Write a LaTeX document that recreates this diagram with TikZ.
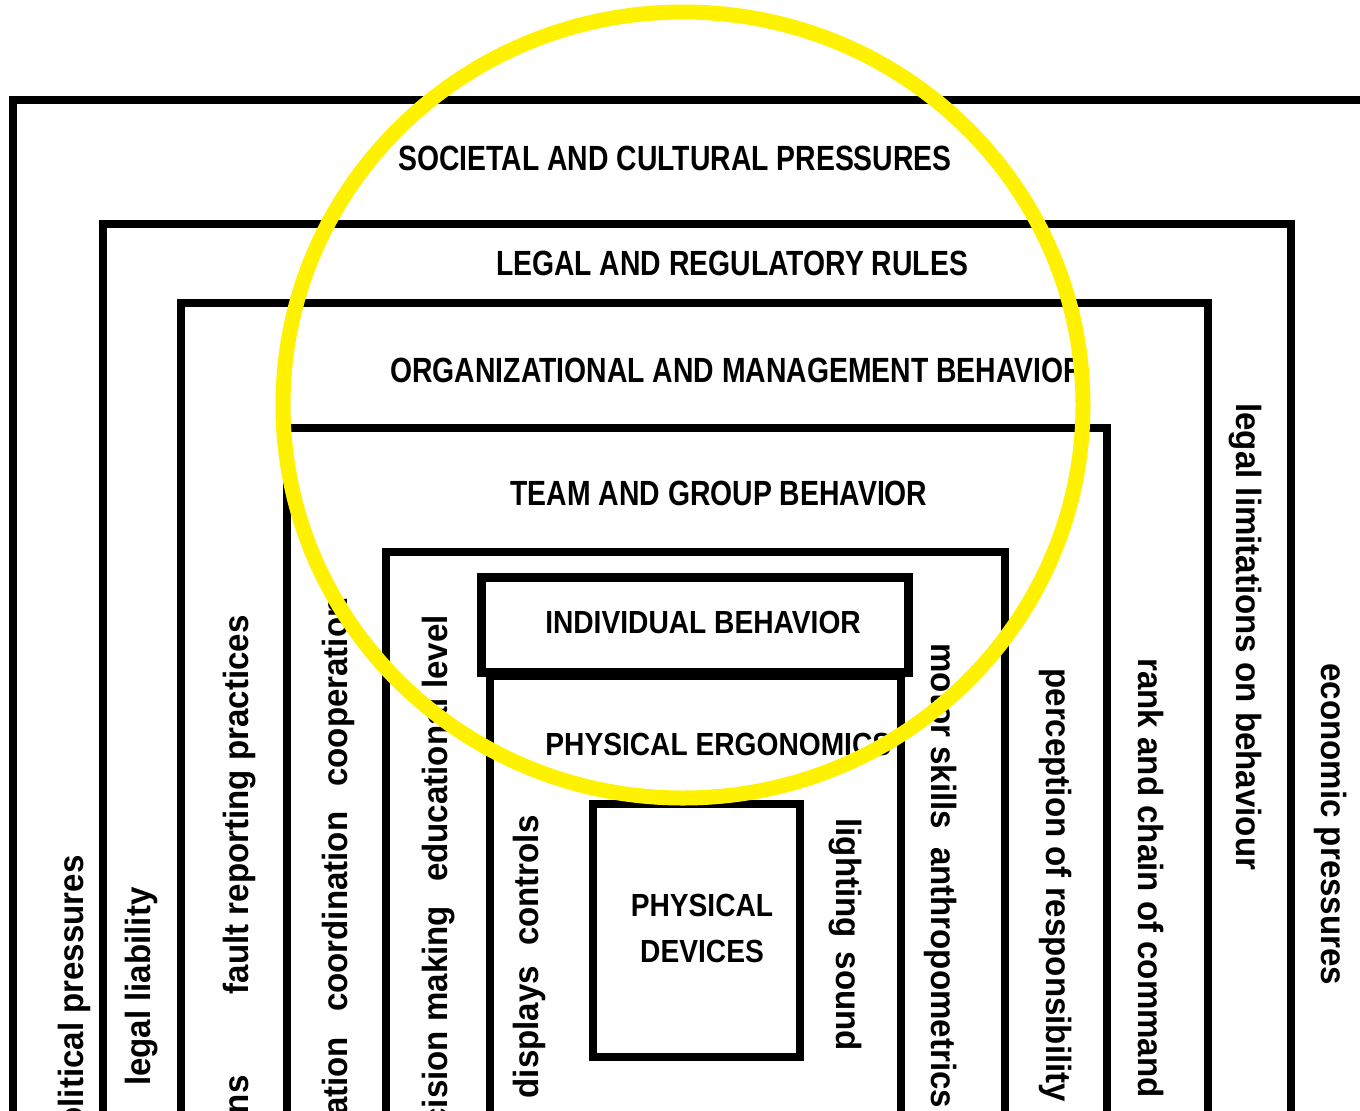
\documentclass[tikz,border=0pt]{standalone}
\usepackage{fontspec}
\setmainfont{Liberation Sans}
\newfontfamily\hdrA[FakeStretch=0.81]{Liberation Sans Bold}
\newfontfamily\hdrB[FakeStretch=0.88]{Liberation Sans Bold}
\newfontfamily\vtxt[FakeStretch=0.945]{Liberation Sans Bold}
\begin{document}
\begin{tikzpicture}[x=0.5pt,y=-0.5pt,
  layer/.style={draw=black,line width=3.6pt},
  bighead/.style={inner sep=0pt,font=\hdrA\fontsize{17.5}{20}\selectfont},
  smallhead/.style={inner sep=0pt,font=\hdrB\fontsize{16}{19}\selectfont},
  upword/.style={inner sep=0pt,rotate=90,anchor=mid east,font=\vtxt\fontsize{17.5}{20}\selectfont},
  downword/.style={inner sep=0pt,rotate=-90,anchor=mid west,font=\vtxt\fontsize{17.5}{20}\selectfont},
  ring/.style={draw=yellow,line width=7.5pt}]
\useasboundingbox (0,0) rectangle (1360,1110);
\fill[white] (0,0) rectangle (1360,1110);
\clip (0,0) rectangle (1360,1110);
% nested layers
\draw[layer,line width=4pt] (13,100) rectangle (1420,1200);
\draw[layer] (103,224) rectangle (1291,1200);
\draw[layer] (181,303) rectangle (1208,1200);
\draw[layer] (287,428) rectangle (1107,1200);
\draw[layer] (386,552) rectangle (1005,1200);
\draw[layer,line width=4.5pt] (481,577) rectangle (908,672);
\draw[layer] (490,676) rectangle (901,1200);
\draw[layer] (593,804) rectangle (800,1057);
% headings
\node[bighead] (soc) at (675,158) {SOCIETAL AND CULTURAL PRESSURES};
\node[bighead] (leg) at (732,263) {LEGAL AND REGULATORY RULES};
\node[bighead,anchor=west] (org) at (390,370) {ORGANIZATIONAL AND MANAGEMENT BEHAVIOR};
\node[bighead] (team) at (719,493) {TEAM AND GROUP BEHAVIOR};
\node[smallhead] (ind) at (703,622) {INDIVIDUAL BEHAVIOR};
\node[smallhead,anchor=west] (erg) at (545,744) {PHYSICAL ERGONOMICS};
\node[smallhead,align=center] (dev) at (702,928) {PHYSICAL\\[4pt]DEVICES};
% left-side vertical labels
\node[upword] (pol) at (78,855) {political pressures};
\node[upword] (liab) at (145,887) {legal liability};
\node[upword] (fault) at (243,615) {fault reporting practices};
\node[upword] (comm) at (243,1075) {communications};
\node[upword] (coop) at (342,597) {communication\hspace{12.5pt}coordination\hspace{12.5pt}cooperation};
\node[upword] (edu) at (442,615) {decision making\hspace{12pt}educational level};
\node[upword] (disp) at (533,815) {displays\hspace{10pt}controls};
% right-side vertical labels
\node[downword] (light) at (842,818) {lighting\hspace{7pt}sound};
\node[downword] (motor) at (937,643) {motor skills\hspace{9pt}anthropometrics};
\node[downword] (perc) at (1052,668) {perception of responsibility};
\node[downword] (rank) at (1144,658) {rank and chain of command};
\node[downword] (lim) at (1242,403) {legal limitations on behaviour};
\node[downword] (eco) at (1327,663) {economic pressures};
% highlight ring
\draw[ring] (683,405) ellipse [x radius=400, y radius=393];
\end{tikzpicture}
\end{document}
